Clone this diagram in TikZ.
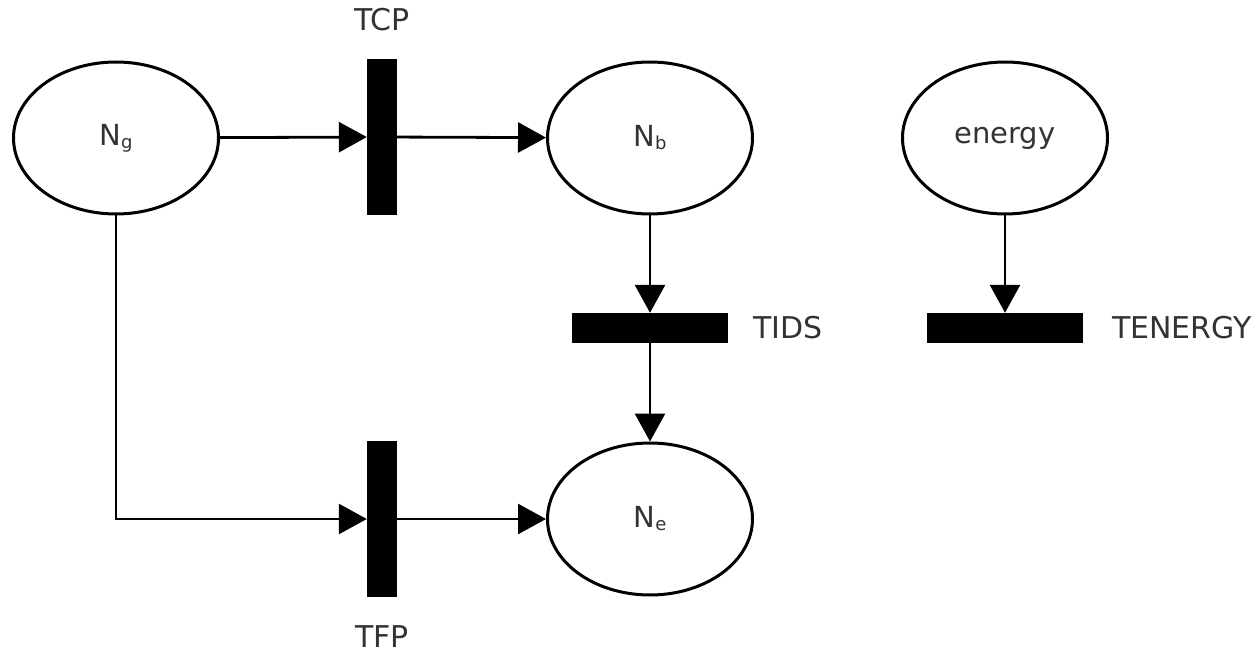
\documentclass[tikz,border=0pt]{standalone}
\usepackage{fontspec}
\setmainfont{DejaVu Sans}
\usetikzlibrary{shapes.geometric,arrows.meta}
\newcommand{\sublab}[2]{#1\raisebox{-3pt}{\fontsize{18}{18}\selectfont #2}}
\begin{document}
\begin{tikzpicture}[x=1pt,y=-1pt,
  place/.style={draw=black,line width=3pt,ellipse,minimum width=205pt,minimum height=152pt,inner sep=0pt,
    font=\fontsize{29}{32}\selectfont,text=black!80},
  vbar/.style={fill=black,rectangle,minimum width=30pt,minimum height=156pt,inner sep=0pt},
  hbar/.style={fill=black,rectangle,minimum width=156pt,minimum height=30pt,inner sep=0pt},
  lab/.style={font=\fontsize{30}{34}\selectfont,text=black!80,inner sep=0pt},
  arc/.style={line width=2.8pt,-{Triangle[length=28pt,width=30pt]}}]
\useasboundingbox (0,0) rectangle (1259,655);
\fill[white] (0,0) rectangle (1259,655);
\node[place] (Ng) at (116,138) {\sublab{N}{g}};
\node[place] (Nb) at (650,138) {\sublab{N}{b}};
\node[place] (Ne) at (650,519) {\sublab{N}{e}};
\node[place] (En) at (1005,138) {energy};
\node[vbar] (TCP) at (382,137) {};
\node[vbar] (TFP) at (382,519) {};
\node[hbar] (TIDS) at (650,328) {};
\node[hbar] (TEN) at (1005,328) {};
\node[lab] (lTCP) at (382,20) {TCP};
\node[lab] (lTFP) at (382,637) {TFP};
\node[lab] (lTIDS) at (788,328) {TIDS};
\node[lab] (lTEN) at (1182,328) {TENERGY};
\draw[arc] (Ng) -- (TCP);
\draw[arc] (TCP) -- (Nb);
\draw[arc] (Ng) |- (TFP);
\draw[arc] (TFP) -- (Ne);
\draw[arc] (Nb) -- (TIDS);
\draw[arc] (TIDS) -- (Ne);
\draw[arc] (En) -- (TEN);
\end{tikzpicture}
\end{document}
